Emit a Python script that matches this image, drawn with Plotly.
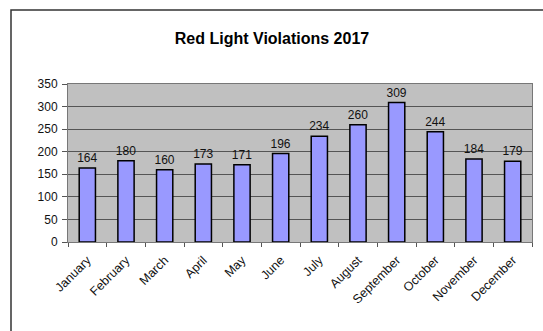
import plotly.graph_objects as go

months = ["January", "February", "March", "April", "May", "June", "July",
          "August", "September", "October", "November", "December"]
violations = [164, 180, 160, 173, 171, 196, 234, 260, 309, 244, 184, 179]
y_ticks = [0, 50, 100, 150, 200, 250, 300, 350]

W, H = 543, 331
L, R, T, B = 68, 11, 84, 89
pw, ph = W - L - R, H - T - B

fig = go.Figure(go.Bar(
    x=months, y=violations,
    marker=dict(color="#9999ff", line=dict(color="black", width=1.5)),
    width=0.42,
    text=[str(v) for v in violations], textposition="outside",
    textfont=dict(family="Liberation Sans, Arial", size=12, color="#111"),
    constraintext="none",
    cliponaxis=False,
))

fig.update_layout(
    width=W, height=H,
    margin=dict(l=L, r=R, t=T, b=B),
    paper_bgcolor="white", plot_bgcolor="#c0c0c0",
    font=dict(family="Liberation Sans, Arial", size=12, color="#111"),
    title=dict(text="<b>Red Light Violations 2017</b>", x=272 / W, xanchor="center",
               y=1 - 38 / H, yanchor="middle",
               font=dict(size=16, color="black")),
    showlegend=False,
)
fig.update_xaxes(
    type="category", tickangle=-45, tickson="boundaries",
    ticks="outside", ticklen=4, tickcolor="#555",
    showline=True, linecolor="#777", linewidth=1, mirror=True,
    showgrid=False, tickfont=dict(size=12.5), ticklabelstandoff=5,
)
fig.update_yaxes(
    range=[0, 350], tickvals=y_ticks, ticks="outside", ticklen=5, tickcolor="#555",
    showline=True, linecolor="#777", linewidth=1, mirror=True,
    showgrid=True, gridcolor="#555", gridwidth=1, zeroline=False,
    tickfont=dict(size=12), ticklabelstandoff=2,
)
fig.add_shape(type="rect", xref="paper", yref="paper",
              x0=(11 - L) / pw, x1=(W + 5 - L) / pw,
              y0=-(H + 5 - T - ph) / ph, y1=1 + (T - 10) / ph,
              line=dict(color="#333", width=1.5), fillcolor="rgba(0,0,0,0)", layer="below")

fig.write_html("out.html")
